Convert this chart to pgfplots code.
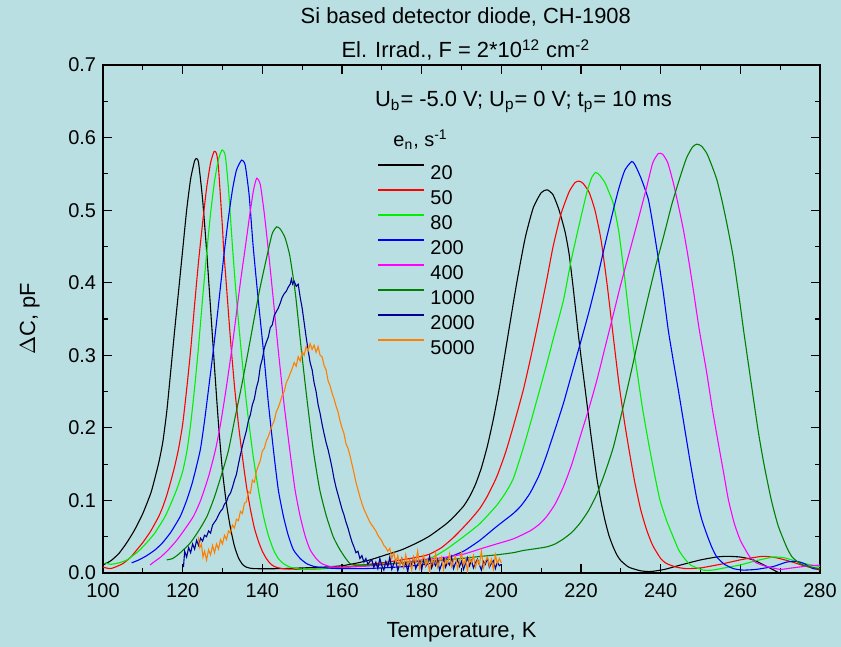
\documentclass[border=0pt]{standalone}
\usepackage{fontspec}
\setmainfont{Liberation Sans}
\usepackage{pgfplots}
\pgfplotsset{compat=1.18}
\definecolor{bg}{RGB}{186,223,226}
\definecolor{cgreen}{RGB}{0,240,0}
\definecolor{cblue}{RGB}{0,0,255}
\definecolor{cmag}{RGB}{255,0,255}
\definecolor{cdkgreen}{RGB}{0,128,0}
\definecolor{cnavy}{RGB}{0,0,150}
\definecolor{corange}{RGB}{255,128,0}
\begin{document}
\begin{tikzpicture}
\fill[bg] (0,0) rectangle (420.5bp,323.5bp);
\begin{axis}[
  at={(51.5bp,37bp)}, anchor=south west,
  width=358.5bp, height=254bp, scale only axis,
  clip mode=individual,
  xmin=100, xmax=280, ymin=0, ymax=0.7,
  xtick={100,120,140,160,180,200,220,240,260,280},
  ytick={0,0.1,0.2,0.3,0.4,0.5,0.6,0.7},
  minor x tick num=1, minor y tick num=1,
  tick align=inside, major tick length=4.5bp, minor tick length=2.5bp,
  axis line style={line width=0.6bp},
  every tick/.style={black, line width=0.6bp},
  /pgf/number format/assume math mode=true,
  ticklabel style={font=\fontsize{10}{12}\selectfont},
  yticklabel style={/pgf/number format/.cd, fixed, fixed zerofill, precision=1},
  xticklabel style={yshift=-2bp, /pgf/number format/.cd, fixed, precision=0, 1000 sep={}},
  xlabel={Temperature, K},
  ylabel={$\Delta$C, pF},
  label style={font=\fontsize{11}{13}\selectfont},
  xlabel style={at={(axis description cs:0.5,-0.116)}, anchor=center},
  ylabel style={at={(axis description cs:-0.102,0.5)}, anchor=center},
  legend style={draw=none, fill=none, at={(0.382,0.806)}, anchor=north west,
    inner sep=0pt, font=\fontsize{10}{12}\selectfont, row sep=4.9bp,
    nodes={inner sep=0pt, text height=7.2bp, text depth=0bp},
    cells={anchor=west},
    /tikz/every odd column/.append style={column sep=2.8bp}},
  legend image code/.code={\draw[#1, line width=0.8bp] (0bp,3.6bp) -- (23bp,3.6bp);},
  every axis plot/.append style={line width=0.55bp},
]
% 20
\addplot[black, smooth, tension=0.35] coordinates {(100,0.011)(102,0.017)(104,0.027)(106,0.042)(108,0.060)(110,0.082)(112,0.110)(113,0.130)(114,0.152)(115,0.180)(116,0.222)(117,0.278)(118,0.335)(119,0.390)(120,0.445)(121,0.500)(122,0.543)(123,0.568)(123.5,0.571)(124,0.565)(125,0.515)(126,0.445)(127,0.365)(128,0.283)(129,0.205)(130,0.140)(131,0.095)(132,0.062)(133,0.037)(134,0.021)(135,0.012)(136,0.008)(138,0.006)(145,0.006)(150,0.007)(155,0.008)(160,0.010)(164,0.014)(167,0.018)(171,0.025)(175,0.032)(179,0.042)(182,0.051)(186,0.067)(188,0.077)(190.5,0.092)(192,0.105)(193.5,0.122)(195,0.145)(196.5,0.175)(198,0.212)(199.5,0.255)(201,0.305)(202.5,0.355)(204,0.404)(206,0.462)(208,0.503)(210,0.524)(211.5,0.528)(213,0.521)(214.5,0.500)(216,0.470)(217,0.440)(218,0.395)(219.2,0.335)(220,0.298)(221,0.255)(222.5,0.190)(224,0.130)(225,0.099)(226,0.073)(227,0.052)(228,0.037)(229,0.025)(230,0.017)(232,0.008)(235,0.003)(237.5,0.002)(241,0.005)(245,0.011)(250,0.018)(254,0.022)(256.6,0.023)(260,0.022)(263.3,0.018)(267,0.008)(270.8,-0.003)};
\addlegendentry{20}
% 50
\addplot[red, smooth, tension=0.35] coordinates {(100,0.008)(101.8,0.006)(103,0.008)(105,0.013)(107,0.022)(108.5,0.032)(110,0.042)(112,0.058)(114,0.078)(115,0.091)(116,0.107)(117,0.126)(118,0.147)(119,0.172)(120,0.205)(121,0.253)(122,0.307)(123,0.370)(124,0.430)(125,0.482)(126,0.530)(127,0.565)(127.9,0.581)(128.5,0.578)(129,0.558)(130,0.475)(130.3,0.445)(131,0.395)(132,0.322)(133,0.258)(134,0.205)(135,0.160)(136,0.120)(137,0.088)(138,0.062)(139,0.044)(140,0.030)(141,0.020)(142,0.013)(143,0.009)(145,0.006)(150,0.005)(155,0.006)(160,0.008)(165,0.011)(170,0.014)(175,0.018)(180,0.023)(182,0.026)(185,0.035)(188,0.049)(190.5,0.063)(192.5,0.075)(194.6,0.089)(196.5,0.106)(198.8,0.132)(201,0.165)(203,0.202)(205.5,0.252)(207.5,0.300)(209.5,0.352)(211.4,0.404)(213,0.450)(215,0.495)(217,0.525)(218.5,0.538)(219.5,0.540)(220.5,0.537)(222,0.525)(223.5,0.500)(225,0.460)(226.5,0.400)(228.1,0.326)(229.5,0.262)(231,0.205)(232.3,0.162)(233.5,0.125)(235,0.087)(236.5,0.059)(238,0.038)(240,0.020)(241.5,0.013)(244,0.008)(246.5,0.006)(250,0.007)(255,0.012)(259.9,0.018)(263,0.021)(265.8,0.023)(269,0.021)(272.5,0.016)(276,0.010)(280,0.004)};
\addlegendentry{50}
% 80
\addplot[cgreen, smooth, tension=0.35] coordinates {(100.5,0.014)(102,0.012)(104,0.014)(106,0.018)(108,0.026)(109.3,0.032)(111,0.042)(113,0.055)(115.6,0.078)(117,0.095)(118.5,0.115)(120,0.140)(121.1,0.169)(122,0.205)(123,0.255)(123.9,0.307)(125,0.378)(126.1,0.445)(127,0.495)(128,0.540)(129,0.570)(129.9,0.583)(130.7,0.575)(131.5,0.530)(132.5,0.450)(133.5,0.378)(134.8,0.300)(136,0.235)(137.6,0.165)(139,0.115)(140.3,0.078)(141.5,0.052)(142.8,0.032)(144,0.020)(145.3,0.013)(147,0.008)(150,0.005)(155,0.006)(160,0.007)(165,0.010)(170,0.012)(175,0.014)(182,0.020)(186,0.032)(190.5,0.050)(194.6,0.068)(198.8,0.093)(201,0.110)(203,0.130)(205.5,0.172)(208,0.220)(211.4,0.288)(213,0.322)(215.6,0.376)(217.5,0.430)(219.8,0.486)(221.5,0.525)(222.7,0.545)(223.7,0.552)(224.7,0.548)(226,0.538)(227,0.525)(228.1,0.509)(229.5,0.470)(231,0.405)(232.5,0.335)(234,0.280)(235.5,0.225)(237,0.178)(238.5,0.135)(239.8,0.101)(241.5,0.072)(243.2,0.049)(244.5,0.032)(245.7,0.022)(247.5,0.011)(250.7,0.004)(253,0.004)(256,0.007)(259.9,0.011)(264,0.017)(268.3,0.022)(271,0.021)(274.1,0.016)(277,0.012)(280,0.009)};
\addlegendentry{80}
% 200
\addplot[cblue, smooth, tension=0.35] coordinates {(107.2,0.014)(109,0.018)(111,0.024)(113.1,0.032)(115,0.042)(117,0.056)(119.4,0.078)(121,0.100)(122.5,0.126)(124.4,0.169)(125.5,0.210)(126.6,0.258)(127.7,0.307)(128.7,0.355)(129.6,0.400)(130.5,0.445)(131.5,0.490)(132.5,0.528)(133.5,0.555)(134.8,0.569)(135.7,0.562)(136.7,0.520)(137.7,0.450)(139,0.375)(140.3,0.305)(141.5,0.235)(142.8,0.169)(144,0.115)(145.3,0.078)(146.5,0.052)(147.8,0.032)(149.5,0.020)(151.1,0.013)(153,0.009)(156,0.007)(160,0.006)(165,0.006)(170,0.007)(176,0.009)(182,0.013)(186,0.020)(190.5,0.030)(194.6,0.045)(198.8,0.064)(203,0.082)(205,0.093)(207.2,0.110)(209.5,0.135)(211.4,0.163)(213.5,0.198)(215.6,0.234)(217.7,0.275)(219.8,0.316)(222,0.360)(224,0.404)(226,0.452)(228.1,0.500)(229.5,0.530)(231,0.555)(232.7,0.567)(233.5,0.563)(235,0.545)(236.9,0.515)(238.2,0.475)(239.5,0.430)(240.7,0.385)(241.9,0.335)(243,0.298)(244.5,0.250)(246,0.200)(247.5,0.150)(249.1,0.101)(250.3,0.074)(251.6,0.053)(252.8,0.036)(254.1,0.022)(256,0.012)(258.3,0.006)(260.7,0.004)(264,0.005)(268.3,0.009)(271.6,0.015)(274.1,0.016)(276,0.013)(278.3,0.006)(280,0.006)};
\addlegendentry{200}
% 400
\addplot[cmag, smooth, tension=0.35] coordinates {(111.8,0.011)(113,0.016)(114.5,0.022)(116.4,0.032)(118.5,0.045)(120.5,0.060)(122.7,0.078)(124.5,0.100)(126.5,0.133)(128.2,0.169)(129.5,0.205)(130.8,0.250)(132.3,0.307)(133.5,0.358)(134.6,0.405)(135.7,0.448)(136.8,0.492)(137.8,0.528)(138.6,0.544)(139.5,0.535)(140.5,0.495)(141.5,0.445)(142.7,0.380)(144,0.307)(145.4,0.235)(146.9,0.169)(148.2,0.115)(149.5,0.078)(150.8,0.050)(152,0.032)(153.5,0.020)(154.9,0.013)(157,0.009)(160,0.008)(165,0.009)(170,0.011)(175,0.014)(180,0.018)(185,0.021)(190.5,0.026)(194.6,0.033)(198.8,0.040)(203,0.047)(207.2,0.058)(209.5,0.067)(211.4,0.078)(213.5,0.095)(215.6,0.119)(217.7,0.150)(219.8,0.188)(222,0.227)(224,0.266)(226,0.310)(228.1,0.356)(230,0.398)(232.3,0.445)(234.5,0.490)(236.5,0.532)(238,0.565)(239.4,0.578)(240.5,0.577)(241.8,0.565)(243.2,0.537)(244.5,0.505)(245.7,0.473)(247,0.432)(248.2,0.390)(249.7,0.335)(251.5,0.278)(253,0.225)(254.5,0.178)(256,0.132)(257,0.101)(258.5,0.068)(260,0.045)(261.5,0.030)(262.4,0.022)(264,0.014)(266.6,0.009)(270,0.005)(273,0.007)(276,0.009)(280,0.011)};
\addlegendentry{400}
% 1000
\addplot[cdkgreen, smooth, tension=0.35] coordinates {(116,0.018)(117.5,0.020)(119,0.026)(120.2,0.032)(122,0.042)(124,0.058)(126.1,0.078)(128,0.105)(130,0.140)(131.5,0.169)(133,0.210)(134.8,0.258)(136.5,0.307)(138,0.352)(139.5,0.395)(141.5,0.445)(142.5,0.468)(143.6,0.477)(144.5,0.474)(145.7,0.462)(146.9,0.437)(148.3,0.385)(149.8,0.307)(151.3,0.235)(152.8,0.169)(154.4,0.115)(156.1,0.078)(157.8,0.050)(159.5,0.032)(162,0.013)(165,0.011)(170,0.012)(175,0.014)(180,0.016)(185,0.018)(190,0.020)(195,0.023)(198.8,0.025)(203,0.028)(205.5,0.031)(208,0.033)(211.4,0.036)(213.5,0.040)(215.6,0.047)(217.7,0.056)(219.8,0.069)(222,0.087)(224,0.109)(226,0.138)(228.1,0.173)(230.2,0.220)(232.3,0.270)(234.4,0.322)(236.5,0.372)(238.6,0.420)(240.7,0.463)(242.8,0.508)(244.9,0.546)(246.5,0.572)(248,0.587)(249.1,0.591)(250.3,0.588)(251.6,0.578)(252.8,0.562)(254.1,0.542)(255.4,0.513)(256.6,0.482)(258.2,0.436)(259.9,0.372)(260.8,0.335)(262.5,0.270)(264.5,0.195)(266,0.148)(267.8,0.100)(269.5,0.065)(271.6,0.036)(273,0.022)(275,0.013)(277,0.009)(280,0.006)};
\addlegendentry{1000}
% 2000
\addplot[cnavy] coordinates {(120.2,0.008)(120.5,0.030)(121,0.022)(121.5,0.035)(122,0.028)(122.5,0.040)(123,0.033)(123.5,0.045)(124,0.038)(124.5,0.048)(125,0.044)(125.5,0.052)(126,0.050)(126.5,0.058)(127,0.055)(127.5,0.066)(128,0.070)(128.5,0.074)(129,0.080)(129.5,0.085)(130,0.088)(130.5,0.095)(131,0.098)(131.5,0.106)(132,0.110)(132.5,0.118)(133,0.128)(133.5,0.136)(134,0.150)(134.5,0.163)(135,0.175)(135.5,0.186)(136,0.196)(136.5,0.210)(137,0.218)(137.5,0.232)(138,0.240)(138.5,0.255)(139,0.265)(139.5,0.285)(140,0.295)(140.5,0.310)(141,0.318)(141.5,0.325)(142,0.338)(142.5,0.342)(143,0.355)(143.5,0.360)(144,0.365)(144.5,0.372)(145,0.380)(145.5,0.385)(146,0.388)(146.5,0.394)(147,0.398)(147.3,0.405)(147.6,0.398)(148,0.402)(148.5,0.395)(149,0.398)(149.5,0.380)(150,0.365)(150.5,0.345)(151,0.325)(151.5,0.307)(152,0.290)(152.5,0.280)(153,0.262)(153.5,0.250)(154,0.232)(154.5,0.220)(155,0.205)(155.5,0.192)(156,0.180)(156.5,0.170)(157,0.158)(157.5,0.145)(158,0.130)(158.5,0.118)(159,0.108)(159.5,0.098)(160,0.088)(160.5,0.080)(161,0.070)(161.5,0.062)(162,0.052)(162.5,0.043)(163,0.036)(163.5,0.028)(164,0.030)(164.5,0.020)(165,0.024)(165.5,0.015)(166,0.020)(166.5,0.012)(167,0.016)(167.5,0.018)(168,0.008)(168.5,0.015)(169,0.006)(169.5,0.020)(170,0.010)(170.5,0.004)(171,0.016)(171.5,0.009)(172,0.022)(172.5,0.005)(173,0.013)(173.5,0.018)(174,0.003)(174.5,0.012)(175,0.020)(175.5,0.008)(176,0.014)(176.5,0.002)(177,0.017)(177.5,0.010)(178,0.021)(178.5,0.006)(179,0.012)(179.5,0.016)(180,0.004)(180.5,0.019)(181,0.009)(181.5,0.013)(182,0.023)(182.5,0.007)(183,0.015)(183.5,0.010)(184,0.018)(184.5,0.004)(185,0.012)(185.5,0.020)(186,0.008)(186.5,0.015)(187,0.011)(187.5,0.022)(188,0.006)(188.5,0.014)(189,0.018)(189.5,0.009)(190,0.016)(190.5,0.005)(191,0.013)(191.5,0.021)(192,0.010)(192.5,0.017)(193,0.007)(193.5,0.014)(194,0.019)(194.5,0.011)(195,0.004)(195.5,0.016)(196,0.012)(196.5,0.021)(197,0.008)(197.5,0.013)(198,0.017)(198.5,0.006)(199,0.015)(199.5,0.010)(200,0.012)};
\addlegendentry{2000}
% 5000
\addplot[corange] coordinates {(123.9,0.050)(124.3,0.035)(124.7,0.040)(125.1,0.022)(125.5,0.030)(126,0.018)(126.5,0.032)(127,0.025)(127.5,0.038)(128,0.028)(128.5,0.040)(129,0.033)(129.5,0.046)(130,0.040)(130.5,0.052)(131,0.046)(131.5,0.058)(132,0.055)(132.5,0.066)(133,0.062)(133.5,0.074)(134,0.072)(134.5,0.085)(135,0.082)(135.5,0.096)(136,0.098)(136.5,0.112)(137,0.110)(137.5,0.128)(138,0.125)(138.5,0.140)(139,0.148)(139.5,0.155)(140,0.168)(140.5,0.172)(141,0.182)(141.5,0.188)(142,0.196)(142.5,0.204)(143,0.210)(143.5,0.222)(144,0.228)(144.5,0.236)(145,0.245)(145.5,0.250)(146,0.262)(146.5,0.268)(147,0.275)(147.5,0.282)(148,0.290)(148.5,0.285)(149,0.298)(149.5,0.292)(150,0.305)(150.5,0.300)(151,0.312)(151.5,0.306)(152,0.316)(152.5,0.308)(153,0.314)(153.5,0.304)(154,0.312)(154.5,0.300)(155,0.298)(155.5,0.286)(156,0.280)(156.5,0.265)(157,0.258)(157.5,0.248)(158,0.240)(158.5,0.230)(159,0.222)(159.5,0.210)(160,0.200)(160.5,0.192)(161,0.178)(161.5,0.172)(162,0.162)(162.5,0.150)(163,0.138)(163.5,0.125)(164,0.115)(164.5,0.105)(165,0.096)(165.5,0.088)(166,0.082)(166.5,0.076)(167,0.070)(167.5,0.066)(168,0.062)(168.5,0.058)(169,0.052)(169.5,0.048)(170,0.044)(170.5,0.038)(171,0.035)(171.5,0.030)(172,0.034)(172.5,0.020)(173,0.028)(173.5,0.014)(174,0.024)(174.5,0.010)(175,0.020)(175.5,0.008)(176,0.025)(176.5,0.012)(177,0.018)(177.5,0.004)(178,0.022)(178.5,0.014)(179,0.030)(179.5,0.006)(180,0.016)(180.5,0.024)(181,0.010)(181.5,0.018)(182,0.002)(182.5,0.020)(183,0.012)(183.5,0.027)(184,0.008)(184.5,0.016)(185,0.022)(185.5,0.005)(186,0.019)(186.5,0.013)(187,0.026)(187.5,0.009)(188,0.017)(188.5,0.023)(189,0.006)(189.5,0.015)(190,0.028)(190.5,0.011)(191,0.019)(191.5,0.003)(192,0.021)(192.5,0.014)(193,0.024)(193.5,0.008)(194,0.018)(194.5,0.012)(195,0.030)(195.5,0.007)(196,0.016)(196.5,0.022)(197,0.010)(197.5,0.019)(198,0.005)(198.5,0.025)(199,0.013)(199.5,0.020)(200,0.014)};
\addlegendentry{5000}
\node[anchor=base west, font=\fontsize{10}{12}\selectfont, inner sep=0pt] at (rel axis cs:0.4045,0.8386) {e\textsubscript{n}, s\textsuperscript{-1}};
\node[anchor=base west, font=\fontsize{11}{13}\selectfont, inner sep=0pt] at (rel axis cs:0.379,0.918) {U\textsubscript{b}= -5.0 V; U\textsubscript{p}= 0 V; t\textsubscript{p}= 10 ms};
\node[anchor=center, font=\fontsize{11}{13}\selectfont, inner sep=0pt] at (rel axis cs:0.506,1.095) {Si based detector diode, CH-1908};
\node[anchor=center, font=\fontsize{11}{13}\selectfont, inner sep=0pt] at (rel axis cs:0.506,1.0295) {El. Irrad., F = 2*10\textsuperscript{12} cm\textsuperscript{-2}};
\end{axis}
\pgfresetboundingbox
\useasboundingbox (0,0) rectangle (420.5bp,323.5bp);
\end{tikzpicture}
\end{document}
